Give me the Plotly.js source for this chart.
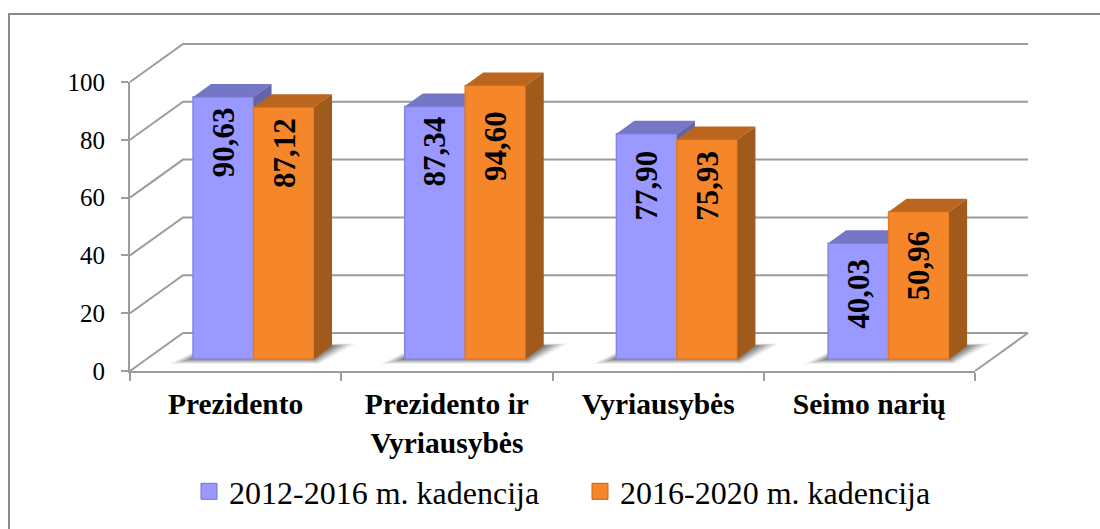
<!DOCTYPE html>
<html><head><meta charset="utf-8">
<script src="https://cdn.plot.ly/plotly-3.0.1.min.js"></script>
<style>html,body{margin:0;padding:0;background:#fff}#c{width:1100px;height:529px}</style>
</head><body><div id="c"></div>
<script>
const categories = ['Prezidento', 'Prezidento ir', 'Vyriausybės', 'Seimo narių'];
const categories2 = ['', 'Vyriausybės', '', ''];
const series1Name = '2012-2016 m. kadencija';
const series2Name = '2016-2020 m. kadencija';
const series1 = [90.63, 87.34, 77.90, 40.03];
const series2 = [87.12, 94.60, 75.93, 50.96];
const yTicks = [0, 20, 40, 60, 80, 100];

const W = 1100, H = 529;
const pxX = 845 / 4, pxY = 2.89;               // pixels per axis unit
const wallDX = 53 / pxX, wallDY = 38 / pxY;    // depth of the back wall
const barDX = 18 / pxX, barDY = 13 / pxY;      // depth of a bar
const baseY = 12 / pxY;                        // bars stand on the floor, inside the depth
const barW = 60.5 / pxX, groupShift = 17.9 / pxX, groupStep = 211.7 / pxX;
const idx = categories.map((_, i) => i);
const x1 = idx.map(i => i * groupStep + groupShift - barW / 2);
const x2 = idx.map(i => i * groupStep + groupShift + barW / 2);
const drop1 = [45, 45, 52, 50], drop2 = [46, 60, 46, 54];   // how far below the bar top each label sits, px

function polys(fn, n) { const xs = [], ys = []; for (let i = 0; i < n; i++) { const p = fn(i); p.forEach(q => { xs.push(q[0]); ys.push(q[1]); }); xs.push(null); ys.push(null); } return { x: xs, y: ys }; }
const face = (P, color, xa, ya) => ({ type: 'scatter', mode: 'lines', x: P.x, y: P.y, fill: 'toself', fillcolor: color, line: { width: 0, color: color }, xaxis: xa, yaxis: ya, showlegend: false, hoverinfo: 'skip' });
const topFace = (cx, v) => i => { const l = cx[i] - barW / 2, r = cx[i] + barW / 2, t = baseY + v[i]; return [[l, t], [r, t], [r + barDX, t + barDY], [l + barDX, t + barDY], [l, t]]; };
const sideFace = (cx, v) => i => { const r = cx[i] + barW / 2, t = baseY + v[i]; return [[r, baseY], [r, t], [r + barDX, t + barDY], [r + barDX, baseY + barDY], [r, baseY]]; };

// walls: grid lines on the back wall and on the left wall, plus the right edge of the floor
const L = -0.5, R = 3.5;
const wallX = [], wallY = [];
yTicks.forEach(t => { wallX.push(L, L + wallDX, R + wallDX, null); wallY.push(t, t + wallDY, t + wallDY, null); });
wallX.push(R, R + wallDX, null); wallY.push(0, wallDY, null);
const walls = { type: 'scatter', mode: 'lines', x: wallX, y: wallY, line: { color: '#9c9c9c', width: 2 }, showlegend: false, hoverinfo: 'skip', xaxis: 'x2', yaxis: 'y2' };

// soft floor shadow built from nested translucent shapes
const shadows = [[1, 'rgba(130,130,130,0.12)'], [0.8, 'rgba(120,120,120,0.18)'], [0.6, 'rgba(110,110,110,0.24)'], [0.4, 'rgba(100,100,100,0.3)'], [0.2, 'rgba(90,90,90,0.35)']].map(([g, col]) => {
  const P = polys(i => {
    const l = x1[i] - barW / 2, r = x2[i] + barW / 2;
    const gx = g * 24 / pxX, gy = g * 5 / pxY;
    return [[l - gx, baseY - gy], [r + gx * 0.2, baseY - gy], [r + barDX + gx, baseY + barDY + gy * 0.5], [l + barDX, baseY + barDY + gy * 0.5], [l - gx, baseY - gy]];
  }, categories.length);
  return face(P, col, 'x2', 'y2');
});

const bar = (name, cx, v, color, edge, xa, ya) => ({ type: 'bar', name, x: cx, y: v, base: idx.map(() => baseY), width: barW, marker: { color, line: { color: edge, width: 1.5 } }, xaxis: xa, yaxis: ya, hoverinfo: 'y', showlegend: false });
const key = (name, color, edge) => ({ type: 'scatter', mode: 'markers', name, x: [null], y: [null], marker: { symbol: 'square', size: 16, color, line: { color: edge, width: 1 } }, xaxis: 'x2', yaxis: 'y2', hoverinfo: 'skip' });
// keeps the front axes (ticks and labels) in the picture
const frontAxes = { type: 'scatter', mode: 'markers', x: idx, y: series1, marker: { opacity: 0, size: 1 }, xaxis: 'x', yaxis: 'y', showlegend: false, hoverinfo: 'skip' };

const data = [
  frontAxes, walls, ...shadows,
  bar(series1Name, x1, series1, '#9999ff', '#8585e6', 'x3', 'y3'),
  face(polys(topFace(x1, series1), 4), '#7676c6', 'x3', 'y3'),
  face(polys(sideFace(x1, series1), 4), '#6464a8', 'x3', 'y3'),
  bar(series2Name, x2, series2, '#f6862a', '#e57a22', 'x4', 'y4'),
  face(polys(topFace(x2, series2), 4), '#ba661f', 'x4', 'y4'),
  face(polys(sideFace(x2, series2), 4), '#a05a1b', 'x4', 'y4'),
  key(series1Name, '#9999ff', '#7676c6'),
  key(series2Name, '#f6862a', '#ba661f')
];

const fmt = v => v.toFixed(2).replace('.', ',');
const label = (cx, v, drop, xa, ya) => idx.map(i => ({ x: cx[i], y: baseY + v[i], xref: xa, yref: ya, text: '<b>' + fmt(v[i]) + '</b>', textangle: -90, showarrow: false, yanchor: 'middle', xanchor: 'center', yshift: -drop[i], font: { family: 'Liberation Serif', size: 31, color: '#000' } }));

const grey = '#9c9c9c';
// overlay plotting area: same scale as the front axes, but big enough for the depth
const areaL = 100, areaR = 1060, areaT = 20, areaB = 392;
const rangeX = [L + (areaL - 130) / pxX, L + (areaR - 130) / pxX];
const rangeY = [(371 - areaB) / pxY, (371 - areaT) / pxY];
const over = { visible: false, range: rangeX, fixedrange: true };
const overY = { visible: false, range: rangeY, fixedrange: true };
const tickLabels = categories.map((c, i) => '<b>' + c + (categories2[i] ? '<br>' + categories2[i] : '') + '</b>');
const layout = {
  width: W, height: H, autosize: false,
  margin: { l: 0, r: 0, t: 0, b: 0 },
  paper_bgcolor: '#fff', plot_bgcolor: 'rgba(0,0,0,0)',
  font: { family: 'Liberation Serif', color: '#000' },
  showlegend: true, barmode: 'overlay',
  xaxis: {
    domain: [130 / W, 975 / W], range: [L, R], tickmode: 'array', tickvals: idx, ticktext: tickLabels, anchor: 'y',
    ticks: '', showgrid: false, zeroline: false, showline: true, linecolor: grey, linewidth: 2,
    tickfont: { family: 'Liberation Serif', size: 29.5, color: '#000' }, tickangle: 0, ticklabelstandoff: 6,
    minor: { tick0: -0.5, dtick: 1, ticks: 'outside', ticklen: 8, tickcolor: grey, tickwidth: 2, showgrid: false },
    fixedrange: true
  },
  yaxis: {
    domain: [1 - 371 / H, 1 - 82 / H], range: [0, 100], tickmode: 'array', tickvals: yTicks, anchor: 'x',
    ticks: 'outside', ticklen: 7, tickcolor: grey, tickwidth: 2, showgrid: false, zeroline: false,
    showline: true, linecolor: grey, linewidth: 2, ticklabelstandoff: 11,
    tickfont: { family: 'Liberation Serif', size: 25, color: '#000' }, fixedrange: true
  },
  xaxis2: Object.assign({ domain: [areaL / W, areaR / W], anchor: 'y2' }, over),
  yaxis2: Object.assign({ domain: [1 - areaB / H, 1 - areaT / H], anchor: 'x2' }, overY),
  xaxis3: Object.assign({ overlaying: 'x2', anchor: 'y3' }, over),
  yaxis3: Object.assign({ overlaying: 'y2', anchor: 'x3' }, overY),
  xaxis4: Object.assign({ overlaying: 'x2', anchor: 'y4' }, over),
  yaxis4: Object.assign({ overlaying: 'y2', anchor: 'x4' }, overY),
  legend: {
    orientation: 'h', x: 189 / W, xanchor: 'left', y: 1 - 464 / H, yanchor: 'top',
    font: { family: 'Liberation Serif', size: 32, color: '#000' }, entrywidth: 346, entrywidthmode: 'pixels',
    bgcolor: 'rgba(0,0,0,0)', traceorder: 'normal', itemclick: false, itemdoubleclick: false
  },
  shapes: [{ type: 'path', xref: 'paper', yref: 'paper', path: `M ${9 / W} 0 L ${9 / W} ${1 - 14 / H} L 1 ${1 - 14 / H}`, line: { color: '#8c8c8c', width: 2 }, layer: 'below' }],
  annotations: [...label(x1, series1, drop1, 'x3', 'y3'), ...label(x2, series2, drop2, 'x4', 'y4')]
};
Plotly.newPlot('c', data, layout, { displayModeBar: false });
</script></body></html>
